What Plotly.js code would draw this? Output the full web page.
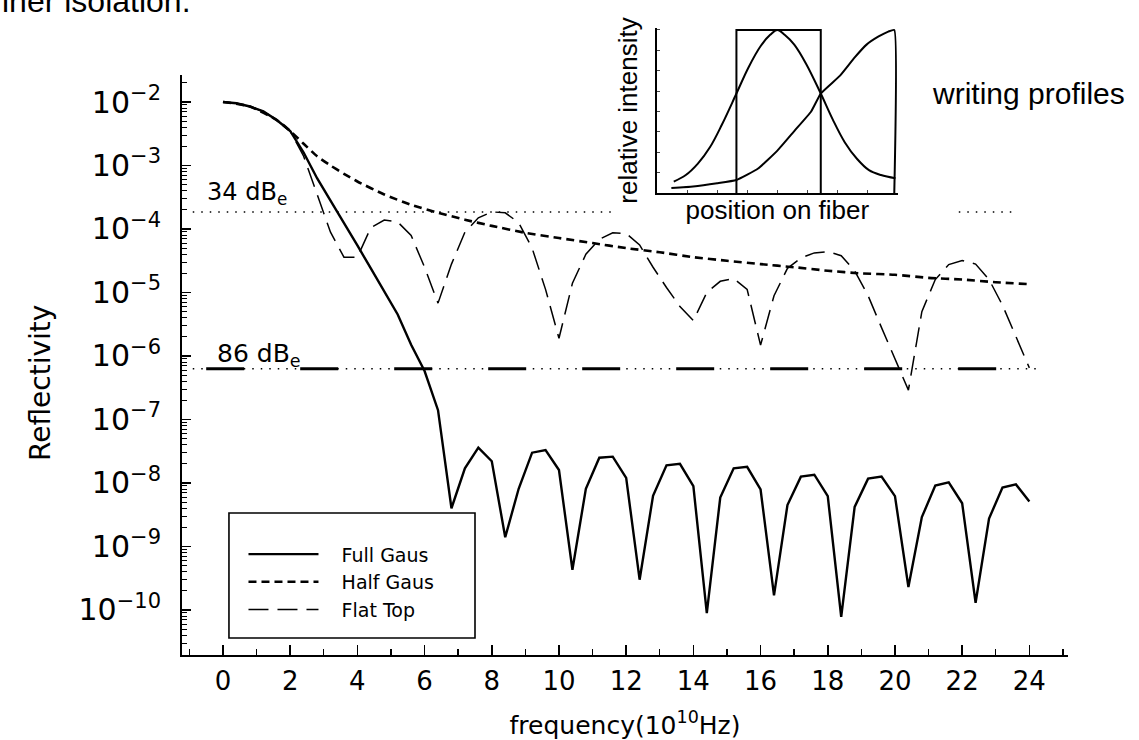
<!DOCTYPE html>
<html><head><meta charset="utf-8">
<script src="https://cdn.plot.ly/plotly-3.0.1.min.js"></script>
<style>html,body{margin:0;padding:0;background:#fff}#chart{width:1139px;height:740px}</style>
</head><body><div id="chart"></div>
<script>
// ---- main chart data (frequency in 1e10 Hz, reflectivity) ----
const freq = [0,0.4,0.8,1.2,1.6,2.0,2.4,2.8,3.2,3.6,4.0,4.4,4.8,5.2,5.6,6.0,6.4,6.8,7.2,7.6,8.0,8.4,8.8,9.2,9.6,10.0,10.4,10.8,11.2,11.6,12.0,12.4,12.8,13.2,13.6,14.0,14.4,14.8,15.2,15.6,16.0,16.4,16.8,17.2,17.6,18.0,18.4,18.8,19.2,19.6,20.0,20.4,20.8,21.2,21.6,22.0,22.4,22.8,23.2,23.6,24.0];
const fullGaus = [1.0e-2,9.55e-3,8.5e-3,7.1e-3,5.2e-3,3.5e-3,1.6e-3,6.3e-4,2.8e-4,1.26e-4,5.5e-5,2.4e-5,1.05e-5,4.5e-6,1.5e-6,5.8e-7,1.4e-7,4.0e-9,1.7e-8,3.6e-8,2.2e-8,1.4e-9,8.1e-9,3.0e-8,3.3e-8,1.6e-8,4.3e-10,8.1e-9,2.5e-8,2.6e-8,1.2e-8,3.0e-10,6.3e-9,1.9e-8,2.0e-8,8.9e-9,8.9e-11,5.9e-9,1.7e-8,1.8e-8,7.9e-9,1.7e-10,4.5e-9,1.26e-8,1.35e-8,6.2e-9,7.8e-11,4.2e-9,1.17e-8,1.26e-8,6.2e-9,2.3e-10,2.9e-9,9.1e-9,1.02e-8,4.8e-9,1.3e-10,2.75e-9,8.5e-9,9.5e-9,5.1e-9];
const flatTop = [1.0e-2,9.55e-3,8.5e-3,7.1e-3,5.2e-3,3.5e-3,1.4e-3,3.5e-4,8.9e-5,3.6e-5,3.6e-5,1.05e-4,1.38e-4,1.29e-4,7.9e-5,2.5e-5,6.8e-6,2.8e-5,8.9e-5,1.5e-4,1.86e-4,1.8e-4,1.26e-4,5.0e-5,1.12e-5,1.9e-6,1.4e-5,4.0e-5,6.9e-5,8.7e-5,8.5e-5,5.6e-5,2.5e-5,1.2e-5,6.0e-6,3.6e-6,1.0e-5,1.5e-5,1.66e-5,1.12e-5,1.48e-6,8.9e-6,2.4e-5,3.5e-5,4.2e-5,4.4e-5,3.8e-5,2.2e-5,8.9e-6,2.8e-6,8.9e-7,2.9e-7,5.0e-6,1.6e-5,2.75e-5,3.2e-5,2.8e-5,1.6e-5,6.3e-6,2.0e-6,6.5e-7];
const freqHalf = [0,0.8,1.6,2.0,2.4,2.8,3.2,3.6,4.0,4.8,5.6,6.4,7.2,8,9,10,11,12,13,14,15,16,17,18,19,20,21,22,23,24];
const halfGaus = [1.0e-2,8.5e-3,5.2e-3,3.5e-3,2.2e-3,1.4e-3,1.0e-3,7.4e-4,5.6e-4,3.5e-4,2.4e-4,1.8e-4,1.4e-4,1.12e-4,8.7e-5,7.2e-5,6.0e-5,5.0e-5,4.3e-5,3.6e-5,3.16e-5,2.8e-5,2.5e-5,2.2e-5,2.0e-5,1.9e-5,1.7e-5,1.6e-5,1.45e-5,1.35e-5];
const seriesNames = ["Full Gaus","Half Gaus","Flat Top"];

// reference levels
const level34 = 1.85e-4;
const level34SpanA = [-0.9, 11.6];
const level34SpanB = [21.9, 23.6];
const level86 = 6.3e-7;
const level86DotSpan = [-0.9, 24.2];
const level86DashSpan = [-0.5, 24.0];

// ---- inset (writing profiles) ----
const insetGausPos = [0.07,0.12,0.17,0.22,0.27,0.33,0.38,0.43,0.47,0.50,0.53,0.57,0.62,0.68,0.73,0.78,0.83,0.88,0.93,0.99];
const insetGaus    = [0.07,0.11,0.18,0.28,0.42,0.61,0.77,0.90,0.97,1.00,0.97,0.91,0.79,0.61,0.45,0.31,0.21,0.14,0.11,0.09];
const insetHalfPos = [0.06,0.15,0.25,0.33,0.42,0.50,0.57,0.64,0.68,0.76,0.82,0.87,0.92,0.96,0.985,0.985];
const insetHalf    = [0.03,0.04,0.06,0.08,0.15,0.26,0.38,0.50,0.61,0.72,0.83,0.91,0.96,0.99,1.00,0.00];
const insetFlatPos = [0.33,0.33,0.68,0.68];
const insetFlat    = [0.00,1.00,1.00,0.00];

const F = "DejaVu Sans, sans-serif";
const A = "Liberation Sans, Arial, sans-serif";
const pad = "\u00a0\u00a0\u00a0";

const traces = [
  {x: freq, y: fullGaus, name: pad + seriesNames[0], mode: "lines", line: {color: "#000", width: 2.4}},
  {x: freqHalf, y: halfGaus, name: pad + seriesNames[1], mode: "lines", line: {color: "#000", width: 2.6, dash: "8px,5px", shape: "spline", smoothing: 0.6}},
  {x: freq, y: flatTop, name: pad + seriesNames[2], mode: "lines", line: {color: "#000", width: 1.5, dash: "20px,9px"}},
  {x: level34SpanA, y: [level34, level34], mode: "lines", showlegend: false, hoverinfo: "skip", line: {color: "#000", width: 1.4, dash: "1.5px,7px"}},
  {x: level34SpanB, y: [level34, level34], mode: "lines", showlegend: false, hoverinfo: "skip", line: {color: "#000", width: 1.4, dash: "1.5px,7px"}},
  {x: level86DotSpan, y: [level86, level86], mode: "lines", showlegend: false, hoverinfo: "skip", line: {color: "#000", width: 1.4, dash: "1.5px,7px"}},
  {x: level86DashSpan, y: [level86, level86], mode: "lines", showlegend: false, hoverinfo: "skip", line: {color: "#000", width: 3.2, dash: "38px,56px"}},
  {x: insetGausPos, y: insetGaus, xaxis: "x2", yaxis: "y2", mode: "lines", showlegend: false, line: {color: "#000", width: 2, shape: "spline"}},
  {x: insetHalfPos, y: insetHalf, xaxis: "x2", yaxis: "y2", mode: "lines", showlegend: false, line: {color: "#000", width: 2, shape: "spline", smoothing: 0.4}},
  {x: insetFlatPos, y: insetFlat, xaxis: "x2", yaxis: "y2", mode: "lines", showlegend: false, line: {color: "#000", width: 2}}
];

const layout = {
  width: 1139, height: 740,
  margin: {l: 182, r: 71, t: 10, b: 85},
  paper_bgcolor: "#fff", plot_bgcolor: "rgba(0,0,0,0)",
  showlegend: true,
  font: {family: F, color: "#000", size: 20},
  xaxis: {
    range: [-1.22, 25.15], domain: [0, 1], anchor: "y",
    showline: true, linewidth: 2.2, linecolor: "#000", mirror: false,
    showgrid: false, zeroline: false,
    ticks: "inside", tick0: 0, dtick: 2, ticklen: 10, tickwidth: 1.6, tickcolor: "#000",
    minor: {ticks: "inside", tick0: 1, dtick: 1, ticklen: 6, tickwidth: 1.4, tickcolor: "#000", showgrid: false},
    tickfont: {family: F, size: 26}, ticklabelstandoff: 2,
    title: {text: "frequency(10<sup>10</sup>Hz)", font: {family: F, size: 25}, standoff: 23}
  },
  yaxis: {
    type: "log", range: [-10.709, -1.575], domain: [0, 0.8992], anchor: "x",
    showline: true, linewidth: 2.2, linecolor: "#000",
    showgrid: false, zeroline: false,
    ticks: "inside", tickmode: "linear", tick0: 0, dtick: 1, ticklen: 9, tickwidth: 1.6, tickcolor: "#000",
    exponentformat: "power",
    minor: {ticks: "inside", dtick: "D1", ticklen: 5, tickwidth: 1, tickcolor: "#000", showgrid: false},
    tickfont: {family: F, size: 24}, ticklabelstandoff: 14
  },
  xaxis2: {
    domain: [0.536, 0.808], anchor: "y2", range: [0, 1],
    showline: true, linewidth: 2, linecolor: "#000", showgrid: false, zeroline: false,
    ticks: "inside", dtick: 0.125, tick0: 0, ticklen: 3, tickwidth: 1, showticklabels: false,
    title: {text: "position on fiber", font: {family: A, size: 26}, standoff: 7}
  },
  yaxis2: {
    domain: [0.7163, 0.9721], anchor: "x2", range: [0, 1.012],
    showline: true, linewidth: 2, linecolor: "#000", showgrid: false, zeroline: false,
    ticks: "inside", dtick: 0.125, tick0: 0, ticklen: 3, tickwidth: 1, showticklabels: false,
    title: {text: "relative intensity", font: {family: A, size: 26}, standoff: 10}
  },
  legend: {
    x: 0.0677, y: 0.2202, xanchor: "left", yanchor: "top",
    bgcolor: "rgba(0,0,0,0)", bordercolor: "rgba(0,0,0,0)", borderwidth: 1.5,
    font: {family: F, size: 19}, itemwidth: 70, tracegroupgap: 0,
    title: {text: " ", font: {size: 16}}
  },
  shapes: [
    {type: "rect", xref: "paper", yref: "paper", x0: 0.053, x1: 0.3307, y0: 0.0264, y1: 0.2202,
     line: {color: "#000", width: 1.6}, fillcolor: "rgba(0,0,0,0)", layer: "above"}
  ],
  annotations: [
    {xref: "paper", yref: "paper", x: -0.1603, y: 0.4217, xanchor: "center", yanchor: "middle", showarrow: false,
     textangle: -90, text: "Reflectivity", font: {family: F, size: 28}},
    {xref: "paper", yref: "paper", x: 0.026, y: 0.716, xanchor: "left", yanchor: "middle", showarrow: false,
     text: "34 dB<sub>e</sub>", font: {family: F, size: 24}},
    {xref: "paper", yref: "paper", x: 0.0372, y: 0.465, xanchor: "left", yanchor: "middle", showarrow: false,
     text: "86 dB<sub>e</sub>", font: {family: F, size: 25}},
    {xref: "paper", yref: "paper", x: 0.844, y: 0.871, xanchor: "left", yanchor: "middle", showarrow: false,
     text: "writing profiles", font: {family: A, size: 30}},
    {xref: "paper", yref: "paper", x: -0.205, y: 1.0140, xanchor: "left", yanchor: "middle", showarrow: false,
     text: "iner isolation.", font: {family: A, size: 32}}
  ]
};

Plotly.newPlot("chart", traces, layout, {displayModeBar: false, staticPlot: true});
</script>
</body></html>
